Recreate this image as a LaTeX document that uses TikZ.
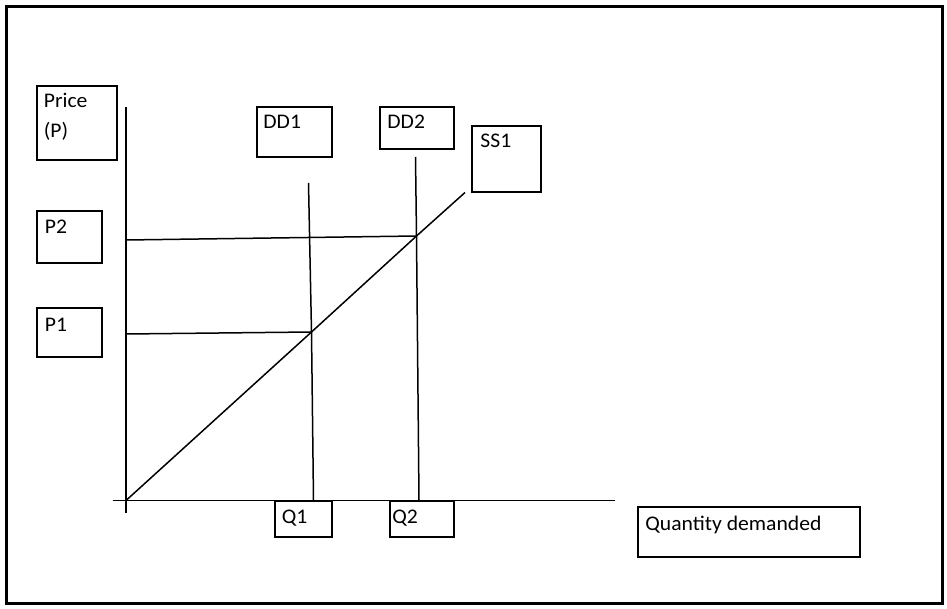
\documentclass[tikz,border=0pt]{standalone}
\usepackage{fontspec}
\setmainfont{Carlito}[FakeStretch=1.04]

\tikzset{
  frame/.style={line width=1.5pt},
  box/.style={line width=1pt},
  curve/.style={line width=0.75pt},
  txt/.style={anchor=base west, inner sep=0pt, font=\fontsize{10.4}{12}\selectfont}
}

\begin{document}
\begin{tikzpicture}[x=0.5pt,y=-0.5pt]
  \useasboundingbox (0,0) rectangle (947,609);
  \draw[frame] (6.5,6.5) rectangle (942,603.5);
  % label boxes
  \draw[box] ( 37, 86) rectangle (117,160);
  \draw[box] (257,107) rectangle (332,157);
  \draw[box] (380,107) rectangle (454,149);
  \draw[box] (472,126) rectangle (541,192);
  \draw[box] ( 37,211) rectangle (102,263);
  \draw[box] ( 37,308) rectangle (102,357);
  \draw[box] (275,501) rectangle (332,537);
  \draw[box] (390,501) rectangle (454,537);
  \draw[box] (638,507) rectangle (860,557);
  % texts
  \node[txt] (price) at ( 43.5,108) {Price};
  \node[txt] (pp)    at ( 43.5,138) {(P)};
  \node[txt] (dd1)   at (263,129) {DD1};
  \node[txt] (dd2)   at (387,129) {DD2};
  \node[txt] (ss1)   at (480,148) {SS1};
  \node[txt] (p2)    at ( 44.5,234) {P2};
  \node[txt] (p1)    at ( 44.5,331) {P1};
  \node[txt] (q1)    at (281.5,523) {Q1};
  \node[txt] (q2)    at (392,523) {Q2};
  \node[txt] (qd)    at (645,530) {Quantity demanded};
  % axes
  \coordinate (o) at (126,500.5);
  \draw[curve] (126,107.5) -- (126,512.5);
  \draw[curve] (112.5,500.5) -- (615,500.5);
  % demand and supply
  \coordinate (e1) at (311.5,332);
  \coordinate (e2) at (416.5,236);
  \draw[curve] (308.5,183) -- (e1) -- (313.5,500.5);
  \draw[curve] (415.5,157) -- (e2) -- (419,500.5);
  \draw[curve] (o) -- (e1) -- (e2) -- (465,192.5);
  % price levels
  \draw[curve] (126,240) -- (e2);
  \draw[curve] (126,334) -- (e1);
\end{tikzpicture}
\end{document}
